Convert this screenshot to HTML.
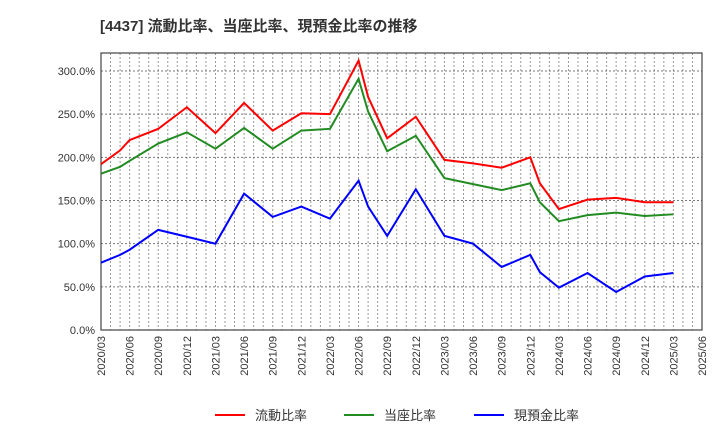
<!DOCTYPE html>
<html><head><meta charset="utf-8"><style>
body{margin:0;background:#fff;}
svg{display:block;font-family:"Liberation Sans","Noto Sans CJK JP",sans-serif;}
</style></head><body>
<svg id="c" width="720" height="440" xmlns="http://www.w3.org/2000/svg">
<text x="100" y="31" font-size="15" font-weight="bold" fill="#333">[4437]  流動比率、当座比率、現預金比率の推移</text>
<g id="grid"></g><g id="axes"></g><g id="series"></g><g id="legend"></g>
</svg>
<script>
const months=[0,2,3,6,9,12,15,18,21,24,27,28,30,33,36,39,42,45,46,48,51,54,57,60];
const current=[192,208,220,233,258,228,263,231,251,250,312,270,222,247,197,193,188,200,170,140,151,153,148,148];
const quick=[181,189,196,216,229,210,234,210,231,233,291,253,207,225,176,169,162,170,148,126,133,136,132,134];
const cash=[78,87,93,116,108,100,158,131,143,129,173,143,109,163,109,100,73,87,67,49,66,44,62,66];
const yTicks=[0,50,100,150,200,250,300];
const xTickLabels=["2020/03","2020/06","2020/09","2020/12","2021/03","2021/06","2021/09","2021/12","2022/03","2022/06","2022/09","2022/12","2023/03","2023/06","2023/09","2023/12","2024/03","2024/06","2024/09","2024/12","2025/03","2025/06"];
const seriesNames=["流動比率","当座比率","現預金比率"];
const L=101,R=702,T=53,B=330,MAXM=63;
const xs=m=>L+(R-L)*m/MAXM;
const ys=v=>B-(B-71)*v/300;
const NS="http://www.w3.org/2000/svg";
function mk(t,a,p){const e=document.createElementNS(NS,t);for(const k in a)e.setAttribute(k,a[k]);p.appendChild(e);return e;}
const grid=document.getElementById('grid'),axes=document.getElementById('axes'),ser=document.getElementById('series'),leg=document.getElementById('legend');
for(let m=1;m<MAXM;m++){const l=mk('line',{x1:xs(m),x2:xs(m),y1:T,y2:B,stroke:'#999','stroke-dasharray':'2,2','stroke-width':1},grid);

}
for(let v=50;v<=300;v+=50){const l=mk('line',{x1:L,x2:R,y1:ys(v),y2:ys(v),stroke:'#777','stroke-dasharray':'2,2','stroke-width':1},grid);

}
const fr=mk('rect',{x:L,y:T,width:R-L,height:B-T,fill:'none',stroke:'#444','stroke-width':1.2},axes);


yTicks.forEach(v=>{const t=mk('text',{x:L-6,y:ys(v)+4,'text-anchor':'end','font-size':11,fill:'#333'},axes);t.textContent=v.toFixed(1)+'%';

});
xTickLabels.forEach((s,i)=>{const x=xs(i*3);const t=mk('text',{x:x+4,y:B+6,'text-anchor':'end','font-size':11,fill:'#333',transform:`rotate(-90 ${x+4} ${B+6})`},axes);t.textContent=s;

});
const cols=['#ff0000','#228b22','#0000ff'];
[current,quick,cash].forEach((d,si)=>{const p=mk('polyline',{points:d.map((v,i)=>xs(months[i])+','+ys(v)).join(' '),fill:'none',stroke:cols[si],'stroke-width':2},ser);

});
const lx=[215,344,474];
seriesNames.forEach((n,i)=>{const g=mk('g',{},leg);


mk('line',{x1:lx[i],x2:lx[i]+30,y1:415,y2:415,stroke:cols[i],'stroke-width':2},g);
const t=mk('text',{x:lx[i]+40,y:420,'font-size':13,fill:'#333'},g);t.textContent=n;});
</script>
</body></html>
